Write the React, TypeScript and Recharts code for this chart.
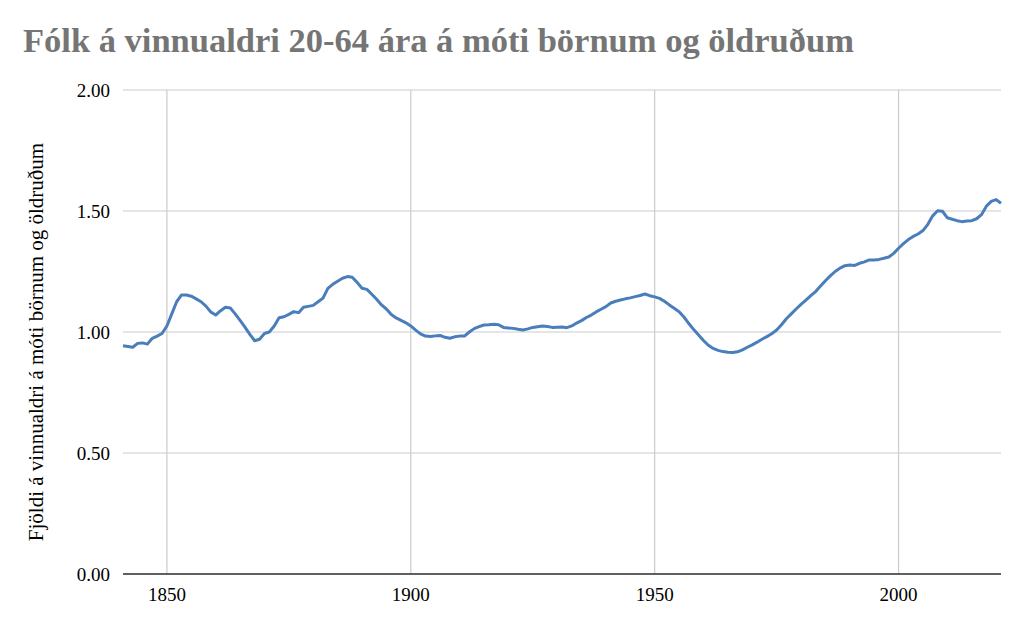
import {CartesianGrid, Line, LineChart, XAxis, YAxis} from "recharts";

const years = [
  1841, 1842, 1843, 1844, 1845, 1846, 1847, 1848, 1849, 1850,
  1851, 1852, 1853, 1854, 1855, 1856, 1857, 1858, 1859, 1860,
  1861, 1862, 1863, 1864, 1865, 1866, 1867, 1868, 1869, 1870,
  1871, 1872, 1873, 1874, 1875, 1876, 1877, 1878, 1879, 1880,
  1881, 1882, 1883, 1884, 1885, 1886, 1887, 1888, 1889, 1890,
  1891, 1892, 1893, 1894, 1895, 1896, 1897, 1898, 1899, 1900,
  1901, 1902, 1903, 1904, 1905, 1906, 1907, 1908, 1909, 1910,
  1911, 1912, 1913, 1914, 1915, 1916, 1917, 1918, 1919, 1920,
  1921, 1922, 1923, 1924, 1925, 1926, 1927, 1928, 1929, 1930,
  1931, 1932, 1933, 1934, 1935, 1936, 1937, 1938, 1939, 1940,
  1941, 1942, 1943, 1944, 1945, 1946, 1947, 1948, 1949, 1950,
  1951, 1952, 1953, 1954, 1955, 1956, 1957, 1958, 1959, 1960,
  1961, 1962, 1963, 1964, 1965, 1966, 1967, 1968, 1969, 1970,
  1971, 1972, 1973, 1974, 1975, 1976, 1977, 1978, 1979, 1980,
  1981, 1982, 1983, 1984, 1985, 1986, 1987, 1988, 1989, 1990,
  1991, 1992, 1993, 1994, 1995, 1996, 1997, 1998, 1999, 2000,
  2001, 2002, 2003, 2004, 2005, 2006, 2007, 2008, 2009, 2010,
  2011, 2012, 2013, 2014, 2015, 2016, 2017, 2018, 2019, 2020,
  2021,
];

// workers per child/elderly person
const ratio = [
  0.943, 0.940, 0.937, 0.953, 0.955, 0.950, 0.974, 0.983, 0.994, 1.025,
  1.075, 1.125, 1.153, 1.153, 1.148, 1.137, 1.125, 1.107, 1.083, 1.070,
  1.088, 1.102, 1.099, 1.075, 1.048, 1.020, 0.990, 0.964, 0.970, 0.994,
  1.000, 1.025, 1.059, 1.063, 1.073, 1.084, 1.080, 1.102, 1.106, 1.110,
  1.125, 1.140, 1.180, 1.197, 1.210, 1.222, 1.229, 1.226, 1.205, 1.181,
  1.176, 1.156, 1.135, 1.112, 1.095, 1.072, 1.058, 1.048, 1.038, 1.025,
  1.008, 0.992, 0.983, 0.981, 0.984, 0.986, 0.978, 0.974, 0.980, 0.983,
  0.983, 1.000, 1.014, 1.022, 1.029, 1.030, 1.032, 1.030, 1.019, 1.017,
  1.015, 1.011, 1.008, 1.013, 1.019, 1.022, 1.025, 1.023, 1.019, 1.020,
  1.021, 1.018, 1.025, 1.037, 1.047, 1.060, 1.070, 1.083, 1.094, 1.105,
  1.120, 1.127, 1.132, 1.137, 1.141, 1.146, 1.151, 1.157, 1.150, 1.145,
  1.139, 1.127, 1.112, 1.098, 1.084, 1.062, 1.035, 1.010, 0.988, 0.965,
  0.945, 0.932, 0.924, 0.919, 0.916, 0.915, 0.918, 0.926, 0.937, 0.947,
  0.958, 0.970, 0.981, 0.993, 1.008, 1.030, 1.055, 1.075, 1.095, 1.114,
  1.132, 1.150, 1.167, 1.190, 1.212, 1.232, 1.250, 1.264, 1.274, 1.277,
  1.275, 1.284, 1.290, 1.298, 1.298, 1.300, 1.305, 1.310, 1.325, 1.346,
  1.365, 1.382, 1.395, 1.405, 1.419, 1.445, 1.480, 1.501, 1.499, 1.472,
  1.466, 1.460, 1.456, 1.459, 1.460, 1.468, 1.485, 1.520, 1.540, 1.547,
  1.532,
];

const xDomain = [1841, 2021];
const xTicks = [1850, 1900, 1950, 2000];
const yTicks = [0, 0.5, 1, 1.5, 2];

const title = "Fólk á vinnualdri 20-64 ára á móti börnum og öldruðum";
const yLabel = "Fjöldi á vinnualdri á móti börnum og öldruðum";

const serif = "'Liberation Serif', 'Times New Roman', serif";

const data = years.map((year, i) => ({year, ratio: ratio[i]}));

// only draw vertical grid lines at the year ticks, not at the plot edges
const verticalLines = ({xAxis, offset}: any) => xTicks.map(t => {
  if (xAxis && typeof xAxis.scale === "function") return xAxis.scale(t);
  return offset.left + (t - xDomain[0]) / (xDomain[1] - xDomain[0]) * offset.width;
});

export default function App() {
  return <div style={{position: "absolute", left: 0, top: 0, width: 1024, height: 626, background: "#fff"}}>
    <div style={{
      position: "absolute", left: 23, top: 23, fontFamily: serif, fontWeight: 700,
      fontSize: 34.5, lineHeight: 1, color: "#757575", whiteSpace: "nowrap",
    }}>
      {title}
    </div>
    <div style={{
      position: "absolute", left: 36, top: 342, fontFamily: serif, fontSize: 21,
      lineHeight: 1, color: "#000", whiteSpace: "nowrap",
      transform: "translate(-50%, -50%) rotate(-90deg)",
    }}>
      {yLabel}
    </div>
    <LineChart width={1024} height={626} data={data} margin={{top: 90, right: 23, bottom: 0, left: 0}}>
      <CartesianGrid stroke="#cccccc" strokeWidth={1.2} verticalCoordinatesGenerator={verticalLines}/>
      <XAxis
        dataKey="year"
        type="number"
        domain={xDomain}
        ticks={xTicks}
        height={52}
        tickLine={false}
        tickSize={0}
        tickMargin={14}
        axisLine={{stroke: "#333", strokeWidth: 1.6}}
        tick={{fill: "#000", fontSize: 19, fontFamily: serif}}
      />
      <YAxis
        type="number"
        domain={[0, 2]}
        ticks={yTicks}
        width={123}
        axisLine={false}
        tickLine={false}
        tickSize={0}
        tickMargin={13}
        tickFormatter={(v: number) => v.toFixed(2)}
        tick={{fill: "#000", fontSize: 19, fontFamily: serif}}
      />
      <Line
        dataKey="ratio"
        type="linear"
        stroke="#4a7ebb"
        strokeWidth={3}
        dot={false}
        strokeLinejoin="round"
        isAnimationActive={false}
      />
    </LineChart>
  </div>
}
